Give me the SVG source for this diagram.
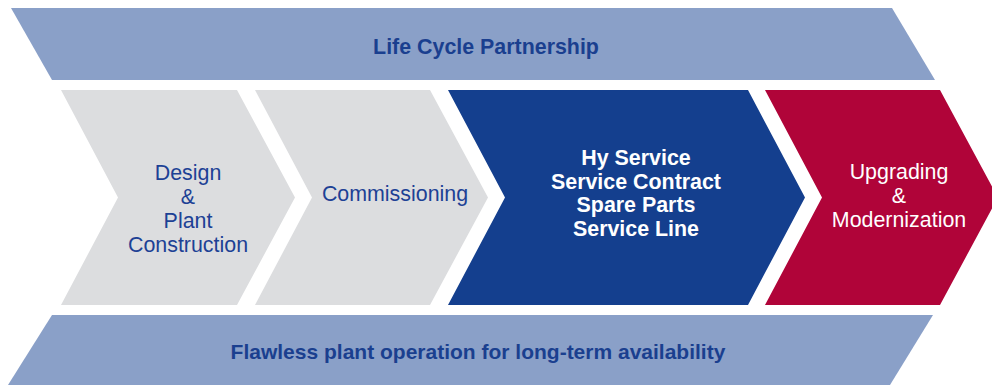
<svg xmlns="http://www.w3.org/2000/svg" width="992" height="385" viewBox="0 0 992 385">
<style>
.banner{fill:#8aa0c8}
.gray{fill:#dcdddf}
.blue{fill:#143f8e}
.red{fill:#b00439}
text{font-family:"Liberation Sans",Arial,sans-serif;text-anchor:middle;font-size:21.4px}
.bt{fill:#1a3f8f;font-weight:bold}
.small{font-size:21px}
.dt{fill:#1d4195}
.wb{fill:#ffffff;font-weight:bold}
.w{fill:#ffffff}
</style>
<rect width="992" height="385" fill="#ffffff"/>
<g id="top-banner">
<polygon class="banner" points="11,8 892,8 935,80 52,80"/>
<text class="bt" x="486" y="54">Life Cycle Partnership</text>
</g>
<g id="design">
<polygon class="gray" points="61,90 237,90 295,197.5 237,305 61,305 118,197.5"/>
<text class="dt" x="188" y="180">Design</text>
<text class="dt" x="188" y="204">&amp;</text>
<text class="dt" x="188" y="228">Plant</text>
<text class="dt" x="188" y="252">Construction</text>
</g>
<g id="commissioning">
<polygon class="gray" points="255,90 430,90 488,197.5 430,305 255,305 312,197.5"/>
<text class="dt" x="395" y="201">Commissioning</text>
</g>
<g id="service">
<polygon class="blue" points="448,90 748,90 805,197.5 748,305 448,305 505,197.5"/>
<text class="wb" x="636" y="165">Hy Service</text>
<text class="wb" x="636" y="189">Service Contract</text>
<text class="wb" x="636" y="212">Spare Parts</text>
<text class="wb" x="636" y="236">Service Line</text>
</g>
<g id="upgrading">
<polygon class="red" points="765,90 940,90 998,197.5 940,305 765,305 822,197.5"/>
<text class="w" x="899" y="179">Upgrading</text>
<text class="w" x="899" y="203">&amp;</text>
<text class="w" x="899" y="227">Modernization</text>
</g>
<g id="bottom-banner">
<polygon class="banner" points="52,315 933,315 890,385 8,385"/>
<text class="bt small" x="478" y="359">Flawless plant operation for long-term availability</text>
</g>
<g id="connectors"></g>
</svg>
